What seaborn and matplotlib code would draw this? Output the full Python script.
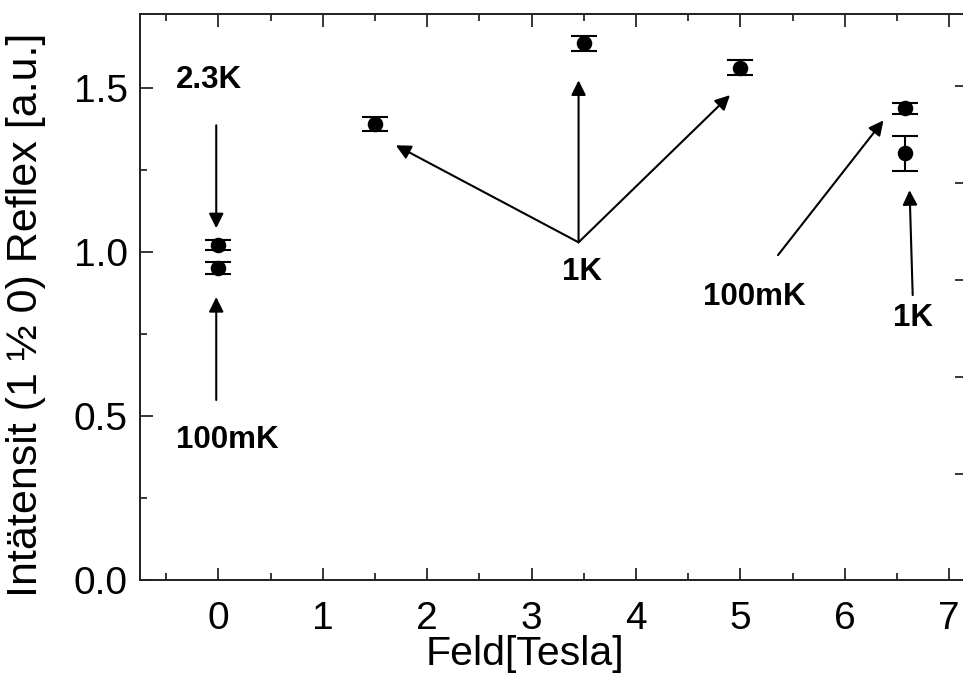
import matplotlib
matplotlib.use("Agg")
import matplotlib.pyplot as plt
from matplotlib.ticker import MultipleLocator, NullFormatter, FormatStrFormatter
import seaborn as sns
import pandas as pd

# Measured integrated intensities of the (1 1/2 0) reflection
field_tesla = [0.0, 0.0, 1.5, 3.5, 5.0, 6.58, 6.58]
intensity = [1.021, 0.951, 1.392, 1.637, 1.563, 1.439, 1.302]
intensity_err = [0.015, 0.018, 0.021, 0.023, 0.023, 0.017, 0.053]

df = pd.DataFrame({"Feld": field_tesla, "I": intensity, "dI": intensity_err})

sns.set_style("ticks")
plt.rcParams["font.family"] = ["Liberation Sans", "DejaVu Sans"]
plt.rcParams["text.color"] = "black"
plt.rcParams["axes.labelcolor"] = "black"
plt.rcParams["xtick.color"] = "black"
plt.rcParams["ytick.color"] = "black"

fig = plt.figure(figsize=(9.63, 6.74), dpi=100)
ax = fig.add_axes([0.1454, 0.1395, 0.862, 0.8395])

ax.errorbar(df["Feld"], df["I"], yerr=df["dI"], fmt="none", ecolor="black",
            elinewidth=1.5, capsize=9.5, capthick=1.5, zorder=2)
sns.scatterplot(data=df, x="Feld", y="I", ax=ax, color="black", s=125,
                edgecolor="black", linewidth=0, zorder=3, legend=False)

ax.set_xlim(-0.75, 7.20)
ax.set_ylim(0.0, 1.726)

ax.xaxis.set_major_locator(MultipleLocator(1))
ax.xaxis.set_minor_locator(MultipleLocator(0.5))
ax.yaxis.set_major_locator(MultipleLocator(0.5))
ax.yaxis.set_minor_locator(MultipleLocator(0.25))
ax.yaxis.set_major_formatter(FormatStrFormatter("%.1f"))

ax.tick_params(axis="both", which="major", direction="in", length=9, width=1.1,
               labelsize=28, top=True, right=False)
ax.tick_params(axis="x", which="major", pad=15)
ax.tick_params(axis="y", which="major", pad=9)
ax.tick_params(axis="both", which="minor", direction="in", length=5, width=1.1,
               top=True, right=False)

for s in ax.spines.values():
    s.set_linewidth(1.2)
    s.set_color("black")

ax.set_xlabel("Feld[Tesla]", fontsize=29.5, va="baseline")
ax.set_ylabel("Intätensit (1 ½ 0) Reflex [a.u.]", fontsize=31)
ax.xaxis.set_label_coords(0.464, -0.151)
ax.yaxis.set_label_coords(-0.113, 0.468)

# Secondary scale on the right spine: ticks only
ax2 = ax.twinx()
ax2.set_ylim(-0.093, 5.742)
ax2.set_yticks([1, 2, 3, 4, 5])
ax2.yaxis.set_major_formatter(NullFormatter())
ax2.tick_params(axis="y", direction="in", length=11, width=1.1)
for s in ax2.spines.values():
    s.set_linewidth(1.2)

arrow = dict(arrowstyle="-|>", mutation_scale=22, lw=1.5, color="black",
             shrinkA=0, shrinkB=0)
bold = dict(fontsize=22.5, fontweight="bold", ha="center", va="center")

# 2.3 K marker at zero field
ax.text(-0.09, 1.524, "2.3K", **bold)
ax.annotate("", xy=(-0.02, 1.073), xytext=(-0.02, 1.387), arrowprops=arrow)

# 100 mK marker at zero field
ax.text(0.087, 0.427, "100mK", **bold)
ax.annotate("", xy=(-0.02, 0.863), xytext=(-0.02, 0.549), arrowprops=arrow)

# 1 K series
ax.text(3.48, 0.939, "1K", **bold)
for tx, ty in [(1.70, 1.326), (3.45, 1.524), (4.90, 1.479)]:
    ax.annotate("", xy=(tx, ty), xytext=(3.45, 1.03), arrowprops=arrow)

# 100 mK at high field
ax.text(5.13, 0.863, "100mK", **bold)
ax.annotate("", xy=(6.37, 1.402), xytext=(5.36, 0.991), arrowprops=arrow)

# 1 K at high field
ax.text(6.65, 0.80, "1K", **bold)
ax.annotate("", xy=(6.62, 1.189), xytext=(6.65, 0.869), arrowprops=arrow)

fig.savefig("out.png", dpi=100)
